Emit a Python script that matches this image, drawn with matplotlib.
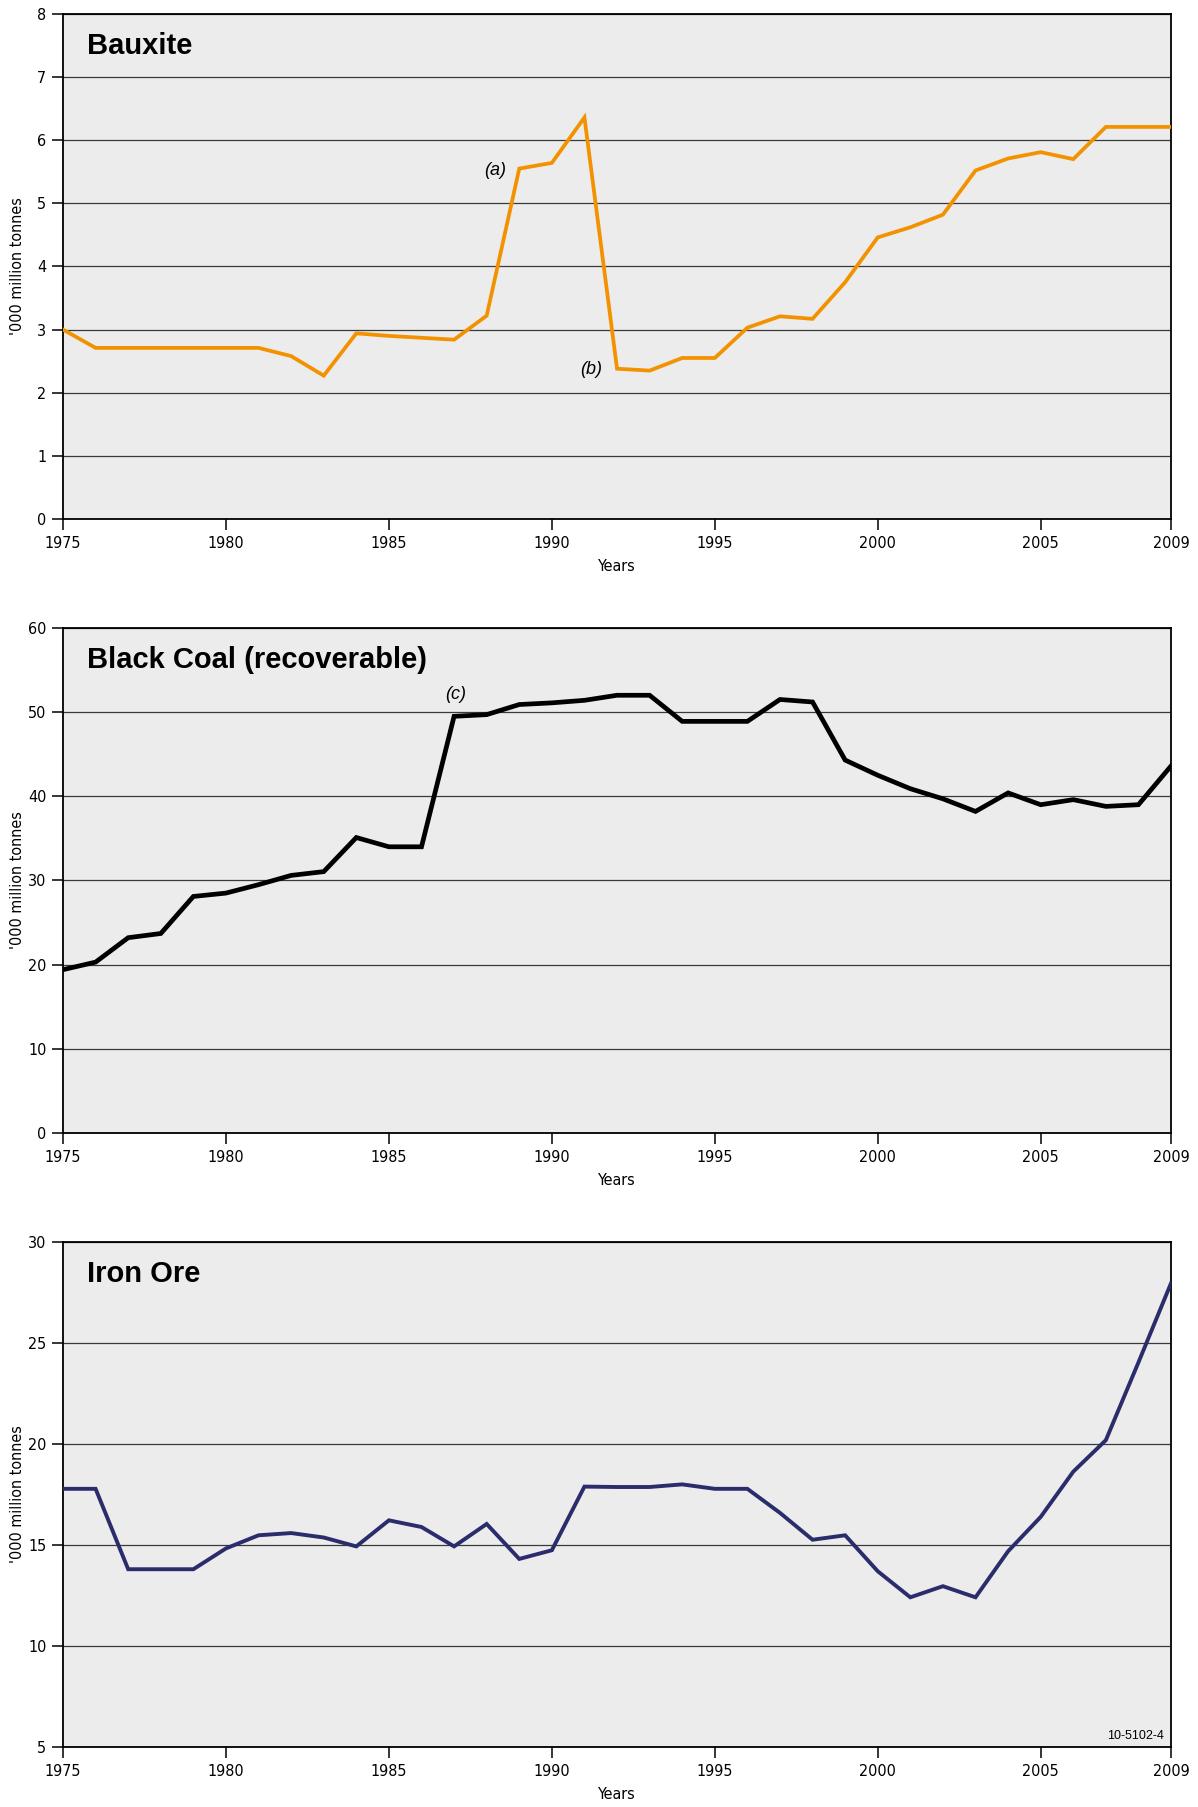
import matplotlib
matplotlib.use("Agg")
import matplotlib.pyplot as plt
from matplotlib import font_manager as fm

# condensed face for ticks and axis labels
narrow = fm.FontProperties(family="DejaVu Sans", stretch="condensed", size=11.5)

years = list(range(1975, 2010))

bauxite = [3.00, 2.71, 2.71, 2.71, 2.71, 2.71, 2.71, 2.58, 2.27, 2.94,
           2.90, 2.87, 2.84, 3.22, 5.55, 5.64, 6.36, 2.38, 2.35, 2.55,
           2.55, 3.03, 3.21, 3.17, 3.75, 4.46, 4.62, 4.82, 5.52, 5.71,
           5.81, 5.70, 6.21, 6.21, 6.21]

black_coal = [19.4, 20.3, 23.2, 23.7, 28.1, 28.5, 29.5, 30.6, 31.05, 35.1,
              34.0, 34.0, 49.5, 49.7, 50.9, 51.1, 51.4, 52.0, 52.0, 48.9,
              48.9, 48.9, 51.5, 51.2, 44.3, 42.5, 40.9, 39.7, 38.2, 40.4,
              39.0, 39.6, 38.8, 39.0, 43.6]

iron_ore = [17.78, 17.78, 13.8, 13.8, 13.8, 14.83, 15.48, 15.59, 15.37, 14.93,
            16.22, 15.89, 14.93, 16.04, 14.31, 14.74, 17.89, 17.87, 17.87, 18.0,
            17.78, 17.78, 16.59, 15.26, 15.48, 13.7, 12.41, 12.96, 12.41, 14.69,
            16.39, 18.63, 20.19, 24.04, 27.96]

x_ticks = [1975, 1980, 1985, 1990, 1995, 2000, 2005, 2009]

panels = [
    ("Bauxite", bauxite, "#F39200", 2.7, (0, 8), list(range(0, 9))),
    ("Black Coal (recoverable)", black_coal, "#000000", 3.4, (0, 60), list(range(0, 61, 10))),
    ("Iron Ore", iron_ore, "#2B2C6C", 2.8, (5, 30), list(range(5, 31, 5))),
]

# (label, x year, y value, panel index)
notes = [("(a)", 1988.27, 5.52, 0), ("(b)", 1991.22, 2.36, 0), ("(c)", 1987.04, 52.1, 1)]

fig = plt.figure(figsize=(11.98, 18.07), dpi=100)
bottoms = [0.7128, 0.3730, 0.0332]

axes = []
for (title, values, color, lw, ylim, yticks), bottom in zip(panels, bottoms):
    ax = fig.add_axes([0.0526, bottom, 0.9249, 0.2795])
    ax.set_facecolor("#ECECEC")
    ax.plot(years, values, color=color, lw=lw, solid_joinstyle="miter", zorder=3)
    ax.set_xlim(1975, 2009)
    ax.set_ylim(*ylim)
    ax.set_xticks(x_ticks)
    ax.set_yticks(yticks)
    ax.grid(axis="y", color="#3a3a3a", lw=0.9, zorder=1)
    ax.set_axisbelow(True)
    for s in ax.spines.values():
        s.set_color("black")
        s.set_linewidth(1.3)
    ax.tick_params(axis="both", direction="out", length=8, width=1.1, pad=4, color="black")
    for lab in ax.get_xticklabels() + ax.get_yticklabels():
        lab.set_fontproperties(narrow)
    ax.set_xlabel("Years", fontproperties=narrow, va="center")
    ax.xaxis.set_label_coords(0.5, -0.094)
    ax.set_ylabel("'000 million tonnes", fontproperties=narrow)
    ax.yaxis.set_label_coords(-0.0343, 0.5)
    ax.text(0.0218, 0.937, title, transform=ax.transAxes, fontsize=21,
            fontweight="bold", fontfamily="Liberation Sans", va="center", ha="left")
    axes.append(ax)

for label, x, y, i in notes:
    axes[i].text(x, y, label, fontsize=13, fontstyle="italic", fontfamily="Liberation Sans",
                 ha="center", va="center", zorder=4)

axes[2].text(0.9934, 0.022, "10-5102-4", transform=axes[2].transAxes, fontsize=9,
             fontfamily="Liberation Sans", ha="right", va="center")

fig.savefig("out.png", dpi=100)
